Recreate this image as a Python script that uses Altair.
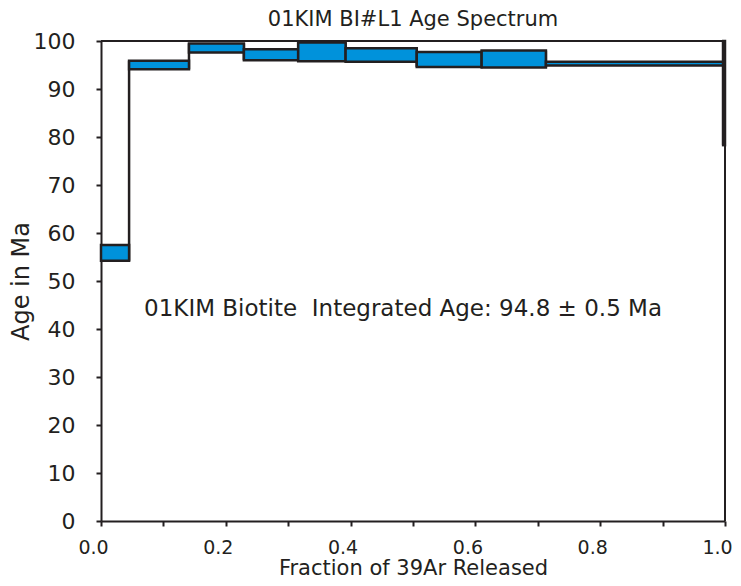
import altair as alt
import pandas as pd

# Step boundaries (fraction of 39Ar released) and age ranges (Ma, ±error box)
frac_start = [0.000, 0.045, 0.141, 0.229, 0.316, 0.392, 0.506, 0.610, 0.713, 0.997]
frac_end   = [0.045, 0.141, 0.229, 0.316, 0.392, 0.506, 0.610, 0.713, 0.997, 1.000]
age_lo     = [54.2, 94.1, 97.6, 96.0, 95.8, 95.7, 94.6, 94.5, 94.9, 78.3]
age_hi     = [57.5, 95.9, 99.5, 98.3, 99.7, 98.5, 97.7, 98.0, 95.7, 100.0]

x_ticks = [0.0, 0.1, 0.2, 0.3, 0.4, 0.5, 0.6, 0.7, 0.8, 0.9, 1.0]
y_ticks = [0, 10, 20, 30, 40, 50, 60, 70, 80, 90, 100]

title_text = "01KIM BI#L1 Age Spectrum"
note_text = "01KIM Biotite\u00a0 Integrated Age: 94.8 ± 0.5 Ma"
note_x = [0.069]
note_y = [44.2]

FONT = "DejaVu Sans"
INK = "#231F20"

steps = pd.DataFrame({"x0": frac_start, "x1": frac_end, "lo": age_lo, "hi": age_hi})
links = pd.DataFrame({
    "x": frac_end[:-1],
    "y0": [min(age_lo[i], age_lo[i + 1]) for i in range(len(age_lo) - 1)],
    "y1": [max(age_hi[i], age_hi[i + 1]) for i in range(len(age_hi) - 1)],
})
frame = pd.DataFrame({"x0": [0.0, 1.0], "x1": [1.0, 1.0], "y0": [100.0, 0.0], "y1": [100.0, 100.0]})
note = pd.DataFrame({"x": note_x, "y": note_y, "t": [note_text]})

xscale = alt.Scale(domain=[0, 1], nice=False)
yscale = alt.Scale(domain=[0, 100], nice=False)

xaxis = alt.Axis(
    values=x_ticks,
    labelExpr="round(datum.value*10) % 2 == 0 ? format(datum.value, '.1f') : ''",
    title="Fraction of 39Ar Released",
    grid=False, domainColor=INK, domainWidth=2, tickColor=INK, tickWidth=2, tickSize=5,
    labelFont=FONT, labelFontSize=19, labelColor=INK, labelPadding=12, labelOffset=-8,
    labelFlush=False, labelOverlap=False,
    titleFont=FONT, titleFontSize=21, titleFontWeight="normal", titleColor=INK, titlePadding=0,
)
yaxis = alt.Axis(
    values=y_ticks, format="d",
    title="Age in Ma",
    grid=False, domainColor=INK, domainWidth=2, tickColor=INK, tickWidth=2, tickSize=5,
    labelFont=FONT, labelFontSize=22, labelColor=INK, labelPadding=21,
    labelFlush=False, labelOverlap=False,
    titleFont=FONT, titleFontSize=24, titleFontWeight="normal", titleColor=INK, titlePadding=0,
)

frame_layer = alt.Chart(frame).mark_rule(color=INK, strokeWidth=2).encode(
    x=alt.X("x0:Q", scale=xscale, axis=xaxis),
    x2="x1:Q",
    y=alt.Y("y0:Q", scale=yscale, axis=yaxis),
    y2="y1:Q",
)
links_layer = alt.Chart(links).mark_rule(color=INK, strokeWidth=2.5).encode(
    x=alt.X("x:Q", scale=xscale),
    y=alt.Y("y0:Q", scale=yscale),
    y2="y1:Q",
)
rects = alt.Chart(steps).mark_rect(fill="#0092DB", stroke=INK, strokeWidth=2.5).encode(
    x=alt.X("x0:Q", scale=xscale),
    x2="x1:Q",
    y=alt.Y("lo:Q", scale=yscale),
    y2="hi:Q",
)
text = alt.Chart(note).mark_text(align="left", baseline="middle", font=FONT, fontSize=23, color=INK).encode(
    x=alt.X("x:Q", scale=xscale),
    y=alt.Y("y:Q", scale=yscale),
    text="t:N",
)

chart = alt.layer(frame_layer, links_layer, rects, text).properties(
    width=624, height=480,
    title=alt.TitleParams(title_text, font=FONT, fontSize=21, fontWeight="normal", color=INK, offset=0),
    autosize=alt.AutoSizeParams(type="none"),
    padding={"left": 93, "top": 33, "right": 8, "bottom": 57},
).configure_view(stroke=None).configure(background="white")

chart.save("out.html", embed_options={"renderer": "svg", "actions": False})
